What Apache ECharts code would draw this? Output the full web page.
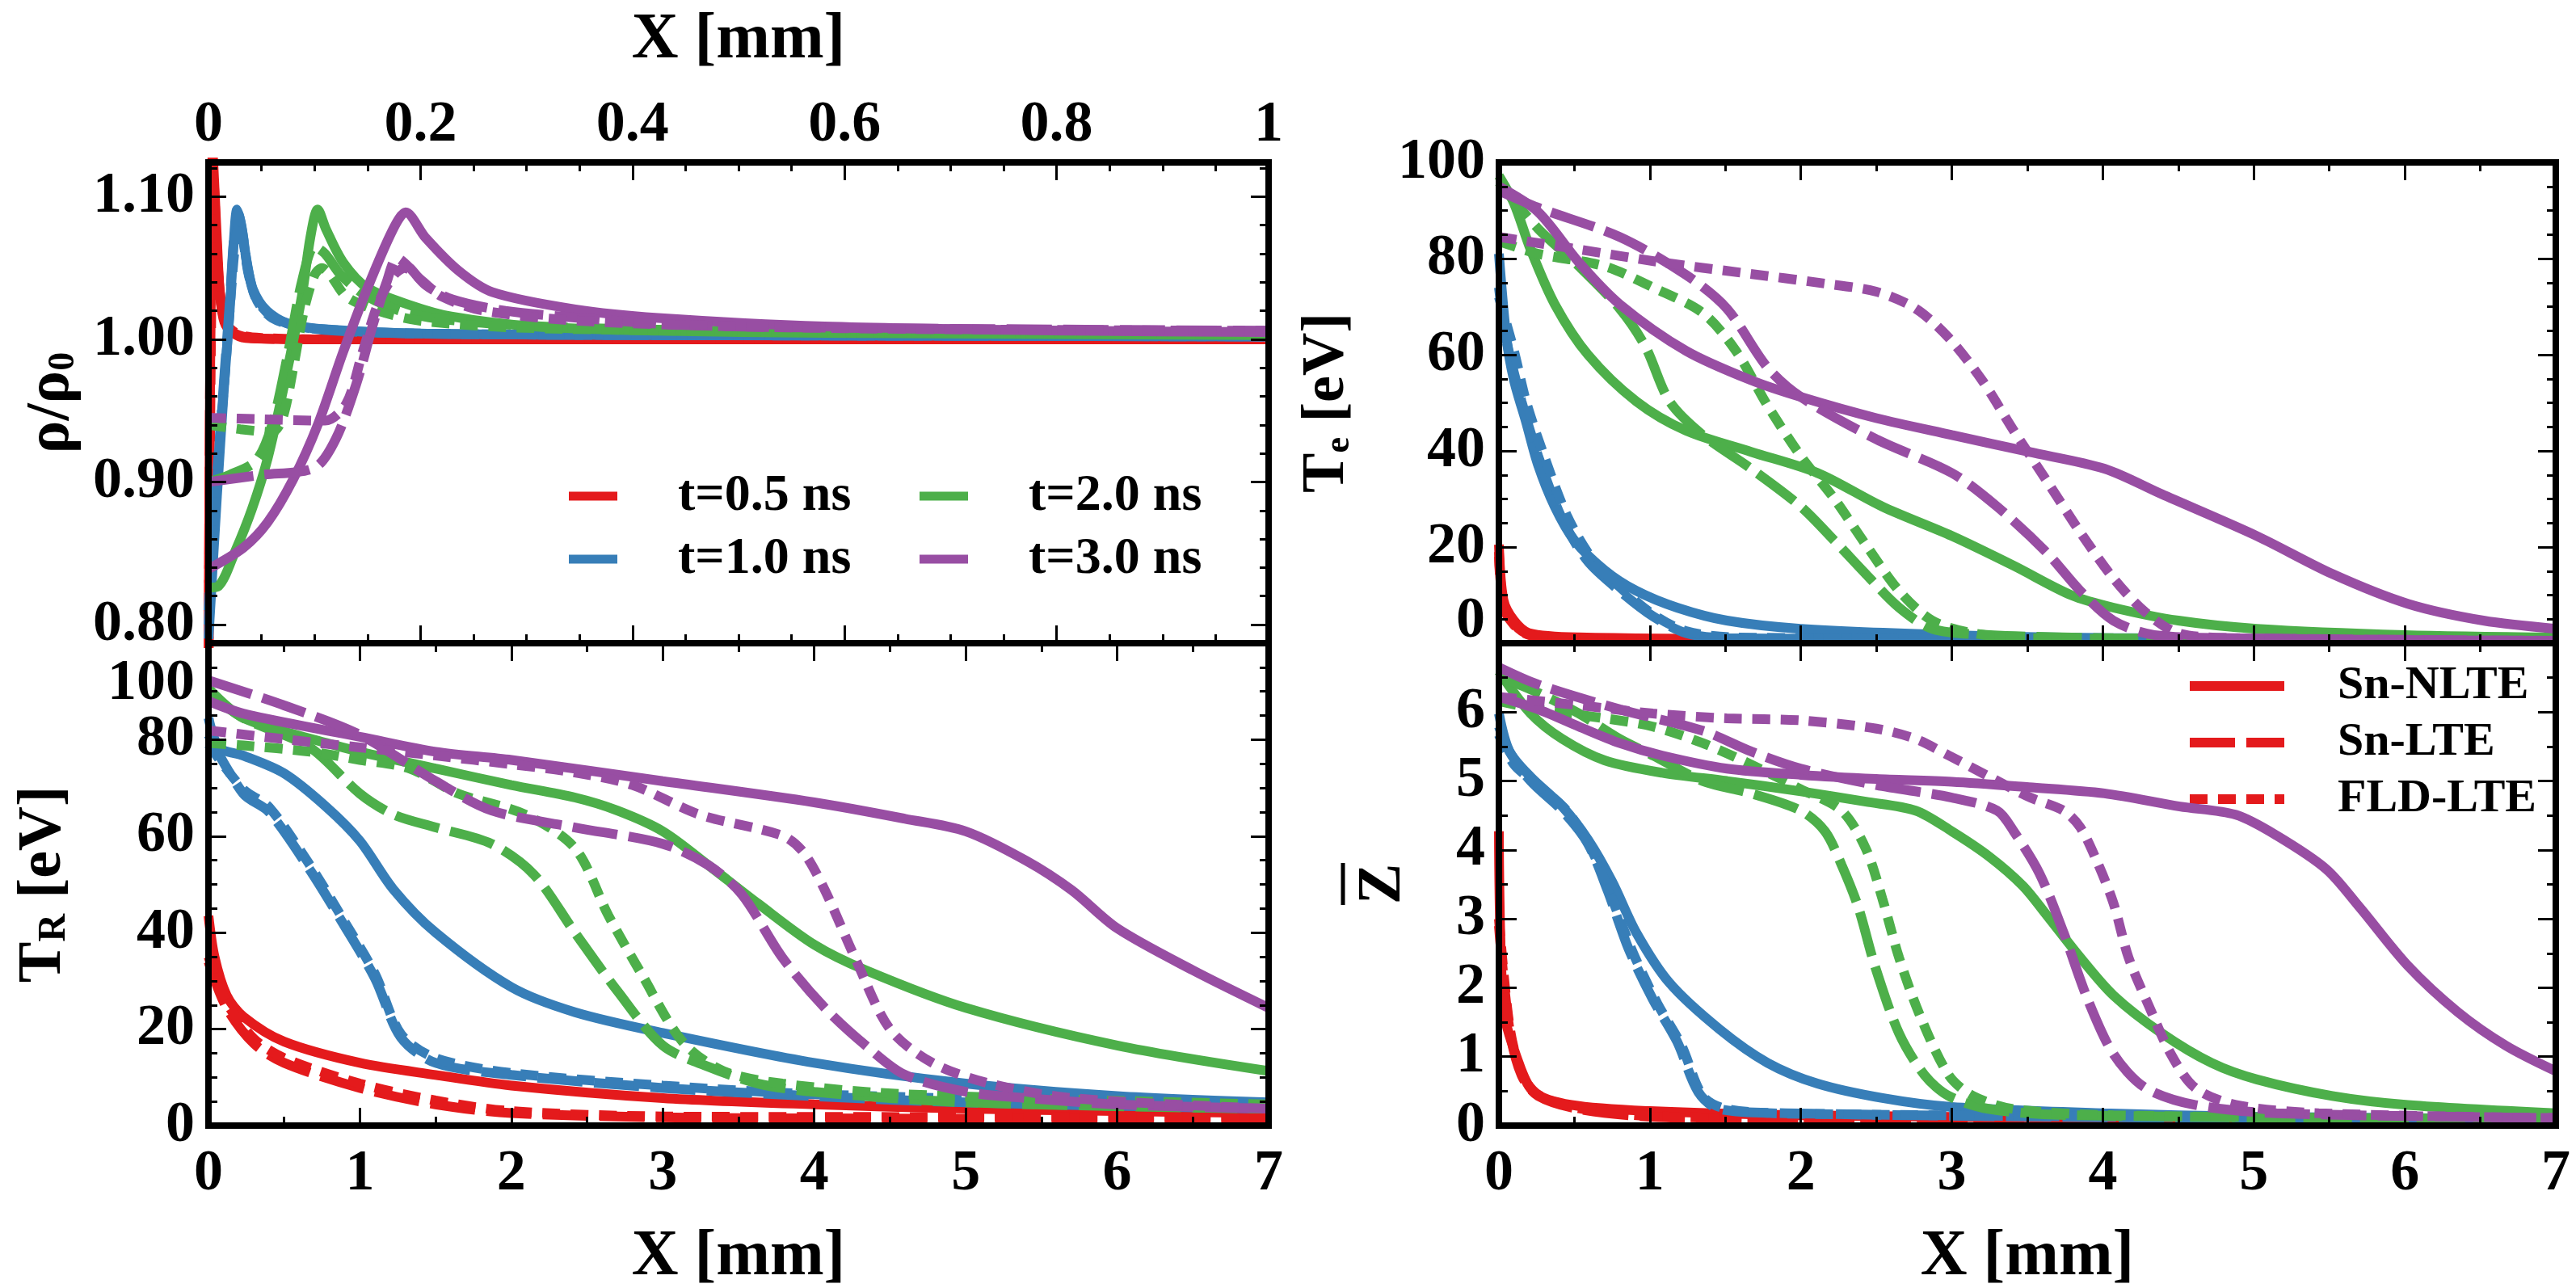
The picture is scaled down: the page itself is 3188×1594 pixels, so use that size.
<!DOCTYPE html>
<html>
<head>
<meta charset="utf-8">
<title>Sn radiation wave profiles</title>
<script src="https://cdn.jsdelivr.net/npm/echarts@6.0.0/dist/echarts.min.js"></script>
<style>
html, body { margin: 0; padding: 0; background: #fff; }
#chart { width: 3188px; height: 1594px; }
</style>
</head>
<body>
<div id="chart"></div>
<script>
// ---- data: [x (mm), value] ----
// density rho/rho0, x in 0..1 mm
var rho_05_nlte = [[0,0.75],[0.004,1.13],[0.008,1.07],[0.011,1.03],[0.015,1.012],[0.022,1.005],[0.035,1.001],[0.1,1.0],[1,1.0]];
var rho_05_lte  = [[0,0.76],[0.004,1.12],[0.008,1.06],[0.012,1.025],[0.017,1.01],[0.025,1.004],[0.04,1.001],[0.1,1.0],[1,1.0]];
var rho_05_fld  = [[0,0.77],[0.005,1.11],[0.009,1.05],[0.013,1.02],[0.02,1.008],[0.03,1.003],[0.05,1.001],[0.1,1.0],[1,1.0]];
var rho_1_nlte = [[0,0.79],[0.008,0.89],[0.015,0.97],[0.02,1.02],[0.024,1.07],[0.027,1.091],[0.031,1.08],[0.036,1.055],[0.042,1.035],[0.055,1.02],[0.075,1.011],[0.11,1.007],[0.2,1.004],[0.4,1.003],[1,1.002]];
var rho_1_lte  = [[0,0.80],[0.008,0.9],[0.015,0.975],[0.02,1.025],[0.024,1.07],[0.028,1.088],[0.032,1.075],[0.037,1.05],[0.044,1.03],[0.058,1.017],[0.08,1.01],[0.12,1.006],[0.2,1.004],[0.4,1.003],[1,1.002]];
var rho_1_fld  = [[0,0.81],[0.008,0.905],[0.016,0.98],[0.021,1.03],[0.025,1.065],[0.029,1.08],[0.033,1.068],[0.038,1.045],[0.046,1.027],[0.06,1.015],[0.085,1.009],[0.13,1.006],[0.2,1.004],[0.4,1.003],[1,1.002]];
var rho_2_nlte = [[0,0.826],[0.0094,0.827],[0.025,0.851],[0.041,0.881],[0.056,0.917],[0.072,0.97],[0.088,1.03],[0.096,1.071],[0.103,1.091],[0.111,1.077],[0.127,1.054],[0.15,1.036],[0.19,1.024],[0.229,1.016],[0.307,1.009],[0.424,1.006],[0.581,1.0045],[1,1.003]];
var rho_2_lte  = [[0,0.90],[0.02,0.905],[0.045,0.915],[0.06,0.94],[0.075,0.99],[0.088,1.04],[0.1,1.065],[0.11,1.06],[0.125,1.045],[0.15,1.03],[0.19,1.018],[0.25,1.012],[0.35,1.008],[0.6,1.005],[1,1.004]];
var rho_2_fld  = [[0,0.94],[0.03,0.937],[0.06,0.935],[0.07,0.945],[0.08,0.98],[0.09,1.02],[0.1,1.045],[0.107,1.05],[0.115,1.045],[0.13,1.03],[0.16,1.02],[0.2,1.013],[0.3,1.008],[0.6,1.005],[1,1.004]];
var rho_3_nlte = [[0,0.839],[0.033,0.854],[0.056,0.872],[0.08,0.902],[0.103,0.94],[0.127,0.991],[0.15,1.036],[0.174,1.077],[0.186,1.089],[0.205,1.071],[0.236,1.048],[0.268,1.033],[0.346,1.021],[0.424,1.015],[0.581,1.009],[0.816,1.006],[1,1.005]];
var rho_3_lte  = [[0,0.90],[0.05,0.905],[0.1,0.91],[0.12,0.93],[0.14,0.97],[0.155,1.01],[0.168,1.04],[0.178,1.057],[0.19,1.05],[0.205,1.038],[0.23,1.028],[0.28,1.02],[0.35,1.015],[0.45,1.01],[0.6,1.008],[1,1.006]];
var rho_3_fld  = [[0,0.945],[0.05,0.944],[0.11,0.943],[0.13,0.955],[0.145,0.99],[0.16,1.025],[0.175,1.045],[0.185,1.05],[0.2,1.042],[0.22,1.03],[0.26,1.02],[0.35,1.013],[0.5,1.009],[0.7,1.007],[1,1.006]];

// radiation temperature T_R [eV]
var tr_05_nlte = [[0,43.5],[0.04,35],[0.12,27],[0.23,22.6],[0.5,17.4],[1,13],[1.5,10.5],[2,8.3],[3,5.7],[4,4.4],[5,3.5],[6,3],[7,2.6]];
var tr_05_lte  = [[0,34],[0.12,24.4],[0.3,17],[0.5,13],[1,7.8],[1.5,4.4],[2,2.6],[3,1.7],[4,1.5],[7,1.3]];
var tr_05_fld  = [[0,35],[0.12,25.5],[0.3,18],[0.5,14],[1,8.7],[1.5,5.2],[2,3],[3,1.9],[4,1.8],[7,1.7]];
var tr_1_nlte = [[0,84.5],[0.07,78.4],[0.23,76.7],[0.5,73],[0.78,66],[1,59],[1.22,49],[1.5,40],[2,28.7],[2.42,23.5],[3,19.2],[4,13],[5,8.7],[6,6.1],[7,4.8]];
var tr_1_lte  = [[0,81],[0.23,68.8],[0.4,65],[0.67,53],[0.89,41.8],[1.1,30.5],[1.27,18.3],[1.5,13],[2,10.5],[3,7.8],[4,6.1],[5,4.8],[7,3.5]];
var tr_1_fld  = [[0,79],[0.23,69.7],[0.4,66],[0.67,54],[0.89,42.7],[1.1,31.4],[1.27,19],[1.5,14],[2,10.9],[3,8.3],[4,6.5],[7,3.9]];
var tr_2_nlte = [[0,90.6],[0.23,84.5],[0.78,79.3],[1,77.5],[1.5,74],[2,70.6],[2.42,68],[2.7,65.3],[3,61],[3.3,54],[3.63,46],[4,37.5],[4.34,32.2],[5,24.4],[6,16.6],[7,11.3]];
var tr_2_lte  = [[0,89.7],[0.23,84.5],[0.67,78.4],[1,68.8],[1.22,64.5],[1.5,61.8],[1.87,58.4],[2.15,52],[2.42,40],[2.7,27.9],[3,16.6],[3.3,12.2],[3.63,8.7],[4,7],[5,4.8],[7,3.5]];
var tr_2_fld  = [[0,79.3],[0.23,78.8],[0.67,77.5],[1,75.8],[1.33,74],[1.65,68.8],[2.09,64.5],[2.42,57.5],[2.64,43.6],[2.86,31.4],[3.13,17.4],[3.4,11.3],[3.79,8.7],[4.6,6.5],[7,4.4]];
var tr_3_nlte = [[0,88],[0.23,85.4],[0.78,81.9],[1,80.6],[1.5,77.5],[2,75.8],[3,71.4],[4,67],[4.6,63.6],[5,61],[5.4,54.9],[5.7,48.8],[6,40.9],[6.5,32.2],[7,24.4]];
var tr_3_lte  = [[0,92.3],[0.5,87.1],[1,81],[1.5,71.4],[1.87,65.3],[2.42,61.8],[3,58.4],[3.3,54],[3.52,48],[3.79,34.8],[4.07,24.4],[4.34,16.6],[4.6,10.5],[5,7],[5.4,5.7],[6,4.4],[7,3.5]];
var tr_3_fld  = [[0,81.9],[0.5,80.1],[1,78.4],[1.5,76.7],[2,74.9],[2.42,73.2],[2.8,70.6],[3.24,64.5],[3.79,60.1],[3.93,56.6],[4.07,48.8],[4.28,34],[4.5,20],[4.78,13],[5.16,8.7],[5.7,5.7],[7,3.5]];

// electron temperature T_e [eV]
var te_05_nlte = [[0,20.5],[0.03,9],[0.1,4.7],[0.2,2.1],[0.53,1.2],[2,0.8],[7,0.5]];
var te_05_lte  = [[0,19],[0.03,8],[0.1,4],[0.2,1.8],[0.53,1],[2,0.7],[7,0.4]];
var te_05_fld  = [[0,18],[0.03,7.5],[0.1,3.8],[0.2,1.7],[0.53,1],[2,0.7],[7,0.4]];
var te_1_nlte = [[0,81],[0.05,63.5],[0.1,54.7],[0.18,46],[0.26,37],[0.37,28.4],[0.5,21.4],[0.7,15.2],[0.91,10.9],[1.18,7.4],[1.51,4.7],[2,3],[3,1.7],[4,1.1],[7,0.5]];
var te_1_lte  = [[0,74],[0.05,63],[0.15,50.3],[0.26,38.9],[0.42,25.8],[0.59,17],[0.8,10.9],[1.02,5.6],[1.24,2.1],[1.51,1.05],[7,0.5]];
var te_1_fld  = [[0,72],[0.1,60.8],[0.18,50.3],[0.29,39.8],[0.45,26.6],[0.61,17.9],[0.8,11.7],[1.02,6],[1.24,2.5],[1.57,1.2],[7,0.5]];
var te_2_nlte = [[0,97.2],[0.1,91.5],[0.21,81.9],[0.37,70.5],[0.59,60],[0.91,50.3],[1.24,44.2],[1.67,39.8],[2.11,35.4],[2.54,28.4],[3,22.3],[3.41,16.1],[3.79,10],[4.07,7.4],[4.5,4.7],[5.02,3],[6,1.7],[7,1.2]];
var te_2_lte  = [[0,95.9],[0.26,86.2],[0.53,78.4],[0.8,69.6],[0.97,61.7],[1.13,50.3],[1.35,43.3],[1.67,36.3],[2,28.4],[2.22,21.4],[2.43,14.4],[2.65,7.4],[2.87,3],[3.25,1.7],[4.07,1.05],[7,0.5]];
var te_2_fld  = [[0,83.6],[0.26,81],[0.7,78.4],[1.02,74],[1.35,68.7],[1.57,60.8],[1.78,49.4],[2,38.9],[2.22,30.1],[2.43,20.5],[2.65,10.9],[2.87,4.7],[3.14,2.1],[3.52,1.05],[7,0.5]];
var te_3_nlte = [[0,95],[0.26,89.7],[0.53,79.2],[0.8,70.5],[1.24,60.8],[1.67,54.7],[2,51.2],[2.5,46.8],[3,43.3],[3.51,39.8],[4.01,36.3],[4.39,31],[5.02,22.3],[5.52,14.4],[6.02,8.2],[6.52,4.7],[7,3]];
var te_3_lte  = [[0,94.1],[0.26,90.6],[0.8,84.5],[1.24,76.6],[1.51,69.6],[1.78,57.3],[2,51.2],[2.5,42.4],[3,35.4],[3.3,28.4],[3.63,18.8],[3.85,10.9],[4.07,4.7],[4.34,1.7],[4.89,1.05],[7,0.5]];
var te_3_fld  = [[0,84.5],[0.53,81.9],[1.08,79.2],[1.62,77],[2.16,74.8],[2.5,73.1],[2.76,69.6],[2.98,63.5],[3.2,54.7],[3.41,44.2],[3.63,33.7],[3.85,23.1],[4.07,13.5],[4.28,6.5],[4.5,2.1],[4.89,1.05],[7,0.5]];

// mean ionisation Z
var z_05_nlte = [[0,4.27],[0.03,1.7],[0.12,0.98],[0.23,0.49],[0.48,0.3],[1,0.21],[2,0.15],[4,0.11],[7,0.09]];
var z_05_lte  = [[0,2.9],[0.07,1.4],[0.15,0.73],[0.26,0.43],[0.53,0.24],[1,0.13],[2,0.09],[7,0.06]];
var z_05_fld  = [[0,3.0],[0.07,1.45],[0.15,0.76],[0.26,0.45],[0.53,0.25],[1,0.14],[2,0.1],[7,0.07]];
var z_1_nlte = [[0,5.98],[0.07,5.43],[0.21,5.06],[0.42,4.63],[0.59,4.15],[0.75,3.54],[0.91,2.8],[1.13,2.07],[1.46,1.4],[1.78,0.91],[2.11,0.61],[2.54,0.4],[3,0.27],[4,0.18],[5,0.13],[7,0.09]];
var z_1_lte  = [[0,5.79],[0.07,5.43],[0.21,5],[0.42,4.57],[0.59,4.09],[0.72,3.41],[0.86,2.56],[1.02,1.83],[1.18,1.22],[1.32,0.49],[1.46,0.24],[1.9,0.18],[4.07,0.12],[7,0.09]];
var z_1_fld  = [[0,5.67],[0.1,5.24],[0.26,4.94],[0.45,4.57],[0.61,4.02],[0.75,3.29],[0.89,2.5],[1.05,1.77],[1.21,1.16],[1.35,0.43],[1.51,0.24],[2,0.17],[7,0.09]];
var z_2_nlte = [[0,6.59],[0.21,5.98],[0.42,5.61],[0.7,5.3],[1.08,5.12],[1.51,5],[2,4.85],[2.43,4.7],[2.76,4.57],[3,4.27],[3.25,3.9],[3.47,3.48],[3.63,3.05],[3.85,2.44],[4.07,1.89],[4.39,1.34],[4.72,0.91],[5.02,0.67],[5.52,0.43],[6.02,0.3],[7,0.18]];
var z_2_lte  = [[0,6.52],[0.26,6.28],[0.53,5.98],[0.8,5.61],[1.02,5.37],[1.35,5],[1.67,4.82],[2,4.57],[2.16,4.27],[2.27,3.78],[2.38,3.17],[2.49,2.32],[2.65,1.34],[2.82,0.73],[2.98,0.43],[3.25,0.24],[3.79,0.15],[7,0.09]];
var z_2_fld  = [[0,6.16],[0.26,6.04],[0.7,5.91],[1.02,5.79],[1.35,5.55],[1.67,5.24],[2,4.88],[2.27,4.57],[2.43,4.02],[2.54,3.29],[2.65,2.44],[2.79,1.59],[2.98,0.73],[3.14,0.43],[3.41,0.24],[4.07,0.15],[7,0.09]];
var z_3_nlte = [[0,6.22],[0.26,6.04],[0.53,5.79],[0.8,5.55],[1.08,5.37],[1.51,5.18],[2,5.09],[2.5,5.03],[3,4.99],[3.51,4.91],[4.01,4.82],[4.51,4.63],[4.88,4.51],[5.15,4.21],[5.48,3.72],[5.7,3.17],[6.02,2.32],[6.35,1.65],[6.67,1.16],[7,0.79]];
var z_3_lte  = [[0,6.65],[0.26,6.4],[0.8,6.04],[1.35,5.73],[1.67,5.43],[2,5.18],[2.5,4.94],[3,4.76],[3.3,4.57],[3.41,4.27],[3.58,3.66],[3.74,2.8],[3.9,1.83],[4.07,1.04],[4.28,0.55],[4.61,0.3],[5.15,0.18],[7,0.11]];
var z_3_fld  = [[0,6.22],[0.53,6.1],[1.02,5.98],[1.51,5.91],[2,5.88],[2.5,5.76],[2.76,5.61],[2.98,5.37],[3.25,5.06],[3.52,4.76],[3.74,4.57],[3.85,4.33],[3.96,3.84],[4.07,3.23],[4.17,2.44],[4.31,1.71],[4.45,1.04],[4.61,0.55],[4.88,0.3],[5.43,0.18],[7,0.11]];

var times = ['t=0.5 ns', 't=1.0 ns', 't=2.0 ns', 't=3.0 ns'];
var models = ['Sn-NLTE', 'Sn-LTE', 'FLD-LTE'];
var rhoTicks = [0.8, 0.9, 1.0, 1.1];
var trLabels = [0, 20, 40, 60, 80];
var zLabels = [0, 1, 2, 3, 4, 5, 6];

var colors = ['#e41a1c', '#377eb8', '#4daf4a', '#984ea3'];
var dashes = ['solid', [56, 14], [22, 13]];
var FONT = 'Liberation Serif';

var chart = echarts.init(document.getElementById('chart'));

// panels: which axes they sit on and their curves [time][model]
var panels = [
    { xi: 0, yi: 0, curves: [[rho_05_nlte, rho_05_lte, rho_05_fld], [rho_1_nlte, rho_1_lte, rho_1_fld], [rho_2_nlte, rho_2_lte, rho_2_fld], [rho_3_nlte, rho_3_lte, rho_3_fld]] },
    { xi: 2, yi: 4, curves: [[tr_05_nlte, tr_05_lte, tr_05_fld], [tr_1_nlte, tr_1_lte, tr_1_fld], [tr_2_nlte, tr_2_lte, tr_2_fld], [tr_3_nlte, tr_3_lte, tr_3_fld]] },
    { xi: 4, yi: 6, curves: [[te_05_nlte, te_05_lte, te_05_fld], [te_1_nlte, te_1_lte, te_1_fld], [te_2_nlte, te_2_lte, te_2_fld], [te_3_nlte, te_3_lte, te_3_fld]] },
    { xi: 6, yi: 8, curves: [[z_05_nlte, z_05_lte, z_05_fld], [z_1_nlte, z_1_lte, z_1_fld], [z_2_nlte, z_2_lte, z_2_fld], [z_3_nlte, z_3_lte, z_3_fld]] }
];

function frameAxis(o) {
    var ax = {
        type: 'value',
        gridIndex: o.grid,
        position: o.pos,
        min: o.min,
        max: o.max,
        z: 10,
        nameMoveOverlap: false,
        axisLine: { show: o.line !== false, onZero: false, lineStyle: { color: '#000', width: 8, cap: 'square' } },
        axisTick: { show: true, inside: true, length: o.tickLen || 22, lineStyle: { color: '#000', width: 3 } },
        minorTick: { show: !!o.minor, splitNumber: o.minor || 5, length: 11, lineStyle: { color: '#000', width: 3 } },
        splitLine: { show: false },
        minorSplitLine: { show: false },
        axisLabel: { show: false }
    };
    if (o.interval) ax.interval = o.interval;
    if (o.ticks) ax.axisTick.customValues = o.ticks;
    if (o.label) {
        ax.axisLabel = Object.assign({
            show: true, fontFamily: FONT, fontWeight: 'bold', fontSize: 72, color: '#000',
            hideOverlap: false, showMinLabel: true, showMaxLabel: true
        }, o.label);
    }
    if (o.name) {
        ax.name = o.name;
        ax.nameLocation = 'middle';
        ax.nameGap = o.nameGap;
        ax.nameRotate = o.nameRotate || 0;
        ax.nameTextStyle = Object.assign({
            fontFamily: FONT, fontWeight: 'bold', fontSize: 80, color: '#000',
            align: 'center', verticalAlign: 'middle'
        }, o.nameStyle || {});
    }
    return ax;
}

// minor tick positions for the rho axis (0.02 steps between the labelled ones)
var rhoMinor = [];
for (var k = 39; k <= 56; k++) {
    if (k % 5 !== 0) rhoMinor.push(+(k * 0.02).toFixed(2));
}

var xAxes = [
    frameAxis({ grid: 0, pos: 'top', min: 0, max: 1, interval: 0.2, minor: 4,
        label: { margin: 10 }, name: 'X [mm]', nameGap: 151 }),
    frameAxis({ grid: 0, pos: 'bottom', min: 0, max: 1, interval: 0.2, minor: 4 }),
    frameAxis({ grid: 1, pos: 'bottom', min: 0, max: 7, interval: 1, minor: 2,
        label: { margin: 24 }, name: 'X [mm]', nameGap: 163 }),
    frameAxis({ grid: 1, pos: 'top', min: 0, max: 7, interval: 1, minor: 2 }),
    frameAxis({ grid: 2, pos: 'bottom', min: 0, max: 7, interval: 1, minor: 2 }),
    frameAxis({ grid: 2, pos: 'top', min: 0, max: 7, interval: 1, minor: 2 }),
    frameAxis({ grid: 3, pos: 'bottom', min: 0, max: 7, interval: 1, minor: 2,
        label: { margin: 24 }, name: 'X [mm]', nameGap: 163 }),
    frameAxis({ grid: 3, pos: 'top', min: 0, max: 7, interval: 1, minor: 2 })
];

var yAxes = [
    frameAxis({ grid: 0, pos: 'left', min: 0.787, max: 1.124, ticks: rhoTicks,
        label: { margin: 17, customValues: rhoTicks, formatter: function (v) { return v.toFixed(2); } },
        name: '{a|ρ/ρ}{s|0}', nameGap: 194, nameRotate: 90,
        nameStyle: { rich: {
            a: { fontFamily: FONT, fontWeight: 'bold', fontSize: 76, color: '#000' },
            s: { fontFamily: FONT, fontWeight: 'bold', fontSize: 46, color: '#000', verticalAlign: 'bottom' }
        } } }),
    frameAxis({ grid: 0, pos: 'left', min: 0.787, max: 1.124, ticks: rhoMinor, tickLen: 11, line: false }),
    frameAxis({ grid: 0, pos: 'right', min: 0.787, max: 1.124, ticks: rhoTicks }),
    frameAxis({ grid: 0, pos: 'right', min: 0.787, max: 1.124, ticks: rhoMinor, tickLen: 11, line: false }),
    frameAxis({ grid: 1, pos: 'left', min: 0, max: 100, interval: 20, minor: 4,
        label: { margin: 17, customValues: trLabels },
        name: '{a|T}{s|R}{a| [eV]}', nameGap: 204, nameRotate: 90,
        nameStyle: { rich: {
            a: { fontFamily: FONT, fontWeight: 'bold', fontSize: 76, color: '#000' },
            s: { fontFamily: FONT, fontWeight: 'bold', fontSize: 48, color: '#000', verticalAlign: 'bottom' }
        } } }),
    frameAxis({ grid: 1, pos: 'right', min: 0, max: 100, interval: 20, minor: 4 }),
    frameAxis({ grid: 2, pos: 'left', min: 0, max: 100, interval: 20, minor: 4,
        label: { margin: 17,
            formatter: function (v) { return v === 0 ? '{u|0}' : String(v); },
            rich: { u: { fontFamily: FONT, fontWeight: 'bold', fontSize: 72, lineHeight: 40, color: '#000', padding: [0, 0, 54, 0] } } },
        name: '{a|T}{s|e}{a| [eV]}', nameGap: 212, nameRotate: 90,
        nameStyle: { rich: {
            a: { fontFamily: FONT, fontWeight: 'bold', fontSize: 74, color: '#000' },
            s: { fontFamily: FONT, fontWeight: 'bold', fontSize: 44, color: '#000', verticalAlign: 'bottom' }
        } } }),
    frameAxis({ grid: 2, pos: 'right', min: 0, max: 100, interval: 20, minor: 4 }),
    frameAxis({ grid: 3, pos: 'left', min: 0, max: 7, interval: 1, minor: 2,
        label: { margin: 17, customValues: zLabels } }),
    frameAxis({ grid: 3, pos: 'right', min: 0, max: 7, interval: 1, minor: 2 })
];

var series = [];
panels.forEach(function (p, pi) {
    p.curves.forEach(function (byModel, ti) {
        byModel.forEach(function (pts, mi) {
            series.push({
                name: 'p' + pi + ' ' + times[ti] + ' ' + models[mi],
                type: 'line',
                xAxisIndex: p.xi,
                yAxisIndex: p.yi,
                data: pts,
                symbol: 'none',
                smooth: 0.3,
                color: colors[ti],
                lineStyle: { width: 12, type: dashes[mi], color: colors[ti] },
                z: 2 + ti
            });
        });
    });
});

// legend carriers
times.forEach(function (t, ti) {
    series.push({ name: t, type: 'line', data: [], symbol: 'none', color: colors[ti],
        lineStyle: { width: 12, color: colors[ti] } });
});
models.forEach(function (m, mi) {
    series.push({ name: m, type: 'line', xAxisIndex: 6, yAxisIndex: 8, data: [], symbol: 'none', color: colors[0],
        lineStyle: { width: 12, type: dashes[mi], color: colors[0] } });
});

function timeLegend(names, left) {
    return {
        data: names, orient: 'vertical', left: left, top: 582, padding: 0,
        itemWidth: 60, itemHeight: 11, itemGap: 14, icon: 'rect', selectedMode: false,
        textStyle: { fontFamily: FONT, fontWeight: 'bold', fontSize: 64, lineHeight: 60,
            color: '#000', padding: [0, 0, 0, 70] }
    };
}

option = {
    animation: false,
    backgroundColor: '#fff',
    grid: [
        { left: 258, top: 201, width: 1312, height: 595, outerBoundsMode: 'none' },
        { left: 258, top: 796, width: 1312, height: 597, outerBoundsMode: 'none' },
        { left: 1855, top: 201, width: 1308, height: 595, outerBoundsMode: 'none' },
        { left: 1855, top: 796, width: 1308, height: 597, outerBoundsMode: 'none' }
    ],
    xAxis: xAxes,
    yAxis: yAxes,
    legend: [
        timeLegend([times[0], times[1]], 704),
        timeLegend([times[2], times[3]], 1138),
        {
            data: models, orient: 'vertical', left: 2704, top: 820, padding: 0,
            itemWidth: 117, itemHeight: 14, itemGap: 12, selectedMode: false,
            lineStyle: { width: 12 }, itemStyle: { opacity: 0 },
            textStyle: { fontFamily: FONT, fontWeight: 'bold', fontSize: 58, lineHeight: 56,
                color: '#000', padding: [0, 0, 0, 61] }
        }
    ],
    graphic: [
        // top label of the T_R axis, set lower in the source to clear the 0.80 above it
        { type: 'text', x: 241, y: 846, z: 20, style: { text: '100', fontFamily: FONT, fontWeight: 'bold',
            fontSize: 72, fill: '#000', align: 'right', verticalAlign: 'middle' } },
        {
            type: 'group', x: 1712, y: 1094, rotation: Math.PI / 2,
            children: [
                { type: 'text', style: { text: 'Z', fontFamily: FONT, fontWeight: 'bold', fontSize: 76,
                    fill: '#000', align: 'center', verticalAlign: 'middle' } },
                { type: 'line', shape: { x1: -26, y1: -50, x2: 26, y2: -50 }, style: { stroke: '#000', lineWidth: 5 } }
            ]
        }
    ],
    series: series
};

chart.setOption(option);
</script>
</body>
</html>
